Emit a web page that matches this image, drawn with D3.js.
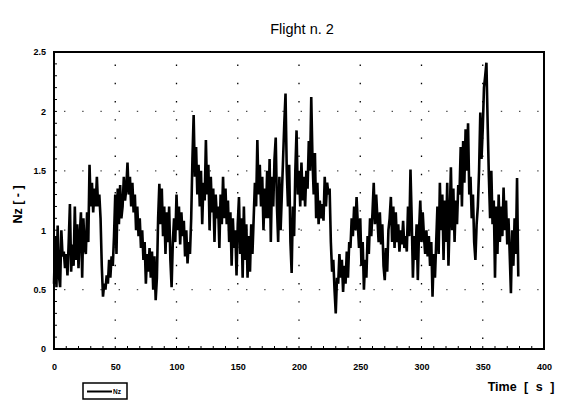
<!DOCTYPE html>
<html>
<head>
<meta charset="utf-8">
<script src="https://cdn.jsdelivr.net/npm/d3@7"></script>
<style>
  html, body { margin: 0; padding: 0; background: #fff; }
  svg { display: block; font-family: "Liberation Sans", Arial, sans-serif; }
</style>
</head>
<body>
<svg id="chart" width="575" height="402"></svg>
<script>
// Vertical load factor recorded during flight n. 2, one sample per second
const sampleInterval = 1; // s
const nz = [
  0.55,0.95,0.52,1.04,0.62,0.52,1.0,0.78,0.82,0.68,
  0.8,0.62,0.9,1.22,0.65,0.88,0.7,1.2,0.75,1.05,
  0.68,0.95,1.15,0.6,1.1,0.85,0.8,1.15,0.9,1.55,
  1.2,1.4,1.15,1.35,1.2,1.45,1.2,1.3,1.1,0.7,
  0.44,0.55,0.5,0.62,0.55,0.75,0.6,0.78,0.7,0.95,
  1.3,0.8,1.35,1.05,1.38,1.1,1.2,1.45,1.25,1.35,
  1.57,1.3,1.45,1.2,1.4,1.15,1.3,1.0,1.2,0.95,
  1.1,0.85,1.0,0.75,0.9,0.55,0.8,0.65,0.85,0.6,
  0.82,0.5,0.78,0.41,0.6,1.1,1.39,1.05,1.35,0.95,
  1.2,0.8,1.15,0.9,1.2,0.75,0.52,0.9,1.1,0.9,
  1.3,1.0,1.2,0.88,1.15,0.95,1.08,0.78,1.0,0.72,
  0.9,0.8,1.1,1.6,1.97,1.45,1.7,1.3,1.55,1.2,
  1.5,1.05,1.4,1.25,1.76,1.3,1.55,1.0,1.45,1.15,
  1.35,0.9,1.3,1.1,1.2,0.85,1.3,1.05,1.45,1.1,
  1.35,1.05,1.25,0.9,1.15,0.7,1.1,0.85,1.0,0.62,
  1.05,1.28,0.8,1.1,0.6,1.2,0.75,1.05,0.6,0.95,
  0.65,1.05,0.8,1.1,1.4,1.2,1.76,1.3,1.55,1.2,
  1.45,1.0,1.35,1.1,1.5,1.1,1.6,0.9,1.45,1.2,
  1.6,1.78,1.2,0.9,1.45,1.0,1.3,1.6,1.9,2.15,
  1.5,1.2,1.55,0.9,0.64,1.2,0.95,1.5,1.84,1.3,
  1.5,1.2,1.57,1.25,1.45,1.2,1.5,1.35,1.75,1.5,
  2.12,1.6,1.3,1.65,1.1,1.4,1.05,1.25,1.1,1.22,
  1.08,1.45,1.2,1.4,1.3,1.35,0.9,0.65,0.75,0.5,
  0.3,0.6,0.55,0.8,0.6,0.75,0.48,0.7,0.55,0.82,
  0.6,0.9,0.85,1.1,0.95,1.2,1.0,1.28,1.05,0.85,
  1.1,0.7,0.9,0.5,0.75,0.6,0.95,0.8,1.1,0.95,
  1.15,1.4,1.05,1.3,1.1,0.9,1.15,0.88,1.05,0.7,
  0.58,0.85,0.65,1.0,1.1,1.28,0.9,1.2,0.85,1.15,
  0.9,1.05,0.82,1.0,0.88,1.08,0.85,0.95,0.82,1.2,
  0.95,1.51,1.1,0.6,0.95,0.75,1.05,0.58,1.0,1.25,
  0.9,1.15,0.95,0.8,1.0,0.78,0.95,0.7,0.9,0.44,
  0.8,0.6,0.9,1.2,0.8,1.4,1.0,1.3,0.75,1.25,
  0.9,1.4,0.7,1.1,1.53,1.0,1.35,0.9,1.25,1.05,
  1.38,1.3,1.7,1.2,1.75,1.4,1.85,1.5,1.9,1.3,
  1.45,1.1,1.3,0.9,0.75,1.05,1.2,1.5,1.99,1.6,
  1.85,2.2,2.3,2.41,1.9,1.45,1.1,1.5,1.05,1.25,
  0.6,1.2,0.8,1.3,0.9,1.2,0.95,1.36,1.0,1.25,
  0.88,1.1,0.8,0.47,1.0,0.7,1.1,0.8,1.44,0.61
];

const xTicks = [0, 50, 100, 150, 200, 250, 300, 350, 400];
const yTicks = [0, 0.5, 1, 1.5, 2, 2.5];
const yTickLabels = ["0", "0.5", "1", "1.5", "2", "2.5"];

const title = "Flight n. 2";
const xTitle = "Time [ s ]";
const yTitle = "Nz [ - ]";
const seriesName = "Nz";

const svg = d3.select("#chart");
const m = { left: 54, right: 544, top: 52, bottom: 349 };

const x = d3.scaleLinear().domain([0, 400]).range([m.left, m.right]);
const y = d3.scaleLinear().domain([0, 2.5]).range([m.bottom, m.top]);

// dotted grid
const grid = svg.append("g")
  .attr("stroke", "#000").attr("stroke-width", 1.3)
  .attr("stroke-dasharray", "1.4 16.8").attr("fill", "none");
grid.selectAll("line.v").data(xTicks.filter(d => d > 0 && d < 400)).join("line")
  .attr("x1", d => x(d)).attr("x2", d => x(d))
  .attr("y1", m.bottom - 10).attr("y2", m.top);
grid.selectAll("line.h").data(yTicks.filter(d => d > 0 && d < 2.5)).join("line")
  .attr("class", "h").attr("stroke-opacity", 0.7)
  .attr("x1", m.left + 10).attr("x2", m.right)
  .attr("y1", d => y(d)).attr("y2", d => y(d));

// minor inward ticks along the axes
const minorX = d3.range(0, 401, 10);
const minorY = d3.range(0, 2.501, 0.1);
svg.append("g").attr("stroke", "#000").attr("stroke-width", 1)
  .selectAll("line").data(minorX).join("line")
  .attr("x1", d => x(d)).attr("x2", d => x(d))
  .attr("y1", m.bottom).attr("y2", m.bottom - 3);
svg.append("g").attr("stroke", "#000").attr("stroke-width", 1)
  .selectAll("line").data(minorY).join("line")
  .attr("x1", m.left).attr("x2", m.left + 3)
  .attr("y1", d => y(d)).attr("y2", d => y(d));

// series
const line = d3.line()
  .x((d, i) => x(i * sampleInterval))
  .y(d => y(d));
svg.append("path").datum(nz)
  .attr("d", line)
  .attr("fill", "none").attr("stroke", "#000")
  .attr("stroke-width", 2.6).attr("stroke-linejoin", "miter");

// plot frame
svg.append("rect")
  .attr("x", m.left).attr("y", m.top)
  .attr("width", m.right - m.left).attr("height", m.bottom - m.top)
  .attr("fill", "none").attr("stroke", "#000").attr("stroke-width", 2);

// axes (labels only, frame draws the lines)
const xAxis = d3.axisBottom(x).tickValues(xTicks).tickSize(0).tickPadding(15)
  .tickFormat(d3.format("d"));
const gx = svg.append("g").attr("transform", `translate(0,${m.bottom})`).call(xAxis);
gx.select(".domain").remove();
gx.selectAll("text").attr("font-size", 9).attr("font-weight", "bold")
  .attr("font-family", "Liberation Sans, Arial, sans-serif").attr("fill", "#000");

const yAxis = d3.axisLeft(y).tickValues(yTicks).tickSize(0).tickPadding(8)
  .tickFormat((d, i) => yTickLabels[i]);
const gy = svg.append("g").attr("transform", `translate(${m.left},0)`).call(yAxis);
gy.select(".domain").remove();
gy.selectAll("text").attr("font-size", 9).attr("font-weight", "bold")
  .attr("font-family", "Liberation Sans, Arial, sans-serif").attr("fill", "#000");

// titles
svg.append("text").attr("x", 302).attr("y", 34).attr("text-anchor", "middle")
  .attr("font-size", 14.5).text(title);
svg.append("text").attr("x", 521).attr("y", 391).attr("text-anchor", "middle")
  .attr("font-size", 12.5).attr("font-weight", "bold").attr("word-spacing", 4).text(xTitle);
svg.append("text")
  .attr("transform", `translate(22,${(m.top + m.bottom) / 2 + 4}) rotate(-90)`)
  .attr("text-anchor", "middle").attr("font-size", 12.5).attr("font-weight", "bold")
  .text(yTitle);

// legend
const lg = svg.append("g").attr("transform", "translate(83,383)");
lg.append("rect").attr("width", 44).attr("height", 16)
  .attr("fill", "#fff").attr("stroke", "#000").attr("stroke-width", 1.5);
lg.append("line").attr("x1", 4).attr("x2", 29).attr("y1", 8.5).attr("y2", 8.5)
  .attr("stroke", "#000").attr("stroke-width", 2);
lg.append("text").attr("x", 30).attr("y", 11).attr("font-size", 6.5)
  .attr("font-weight", "bold").text(seriesName);
</script>
</body>
</html>
